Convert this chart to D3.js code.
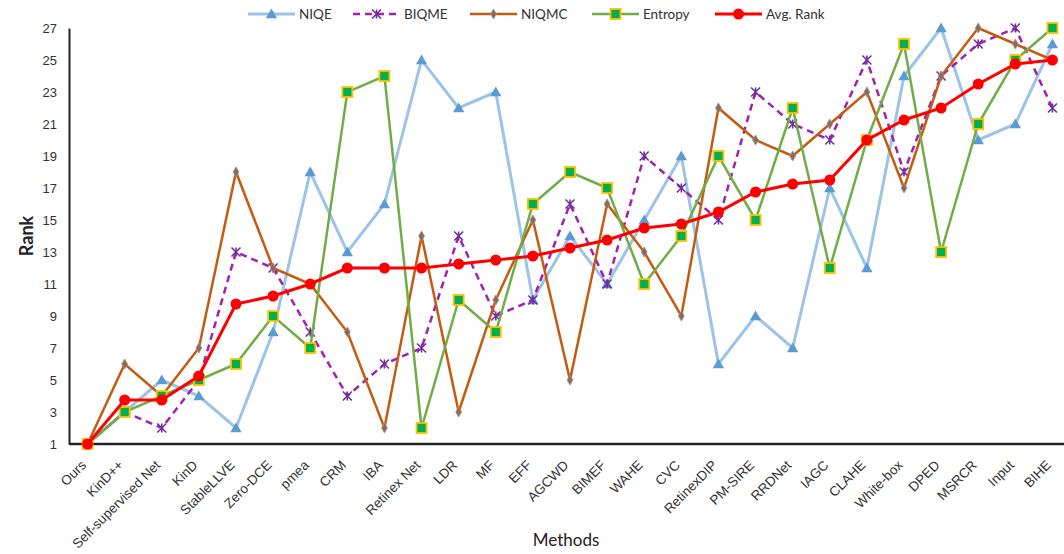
<!DOCTYPE html>
<html>
<head>
<meta charset="utf-8">
<script src="https://cdn.jsdelivr.net/npm/d3@7/dist/d3.min.js"></script>
<style>
body { margin: 0; background: #fff; }
svg { font-family: Lato, "Open Sans", sans-serif; }
</style>
</head>
<body>
<svg id="mainSvg" width="1064" height="554"></svg>
<script>
var methods = ["Ours", "KinD++", "Self-supervised Net", "KinD", "StableLLVE", "Zero-DCE", "pmea", "CRM", "IBA", "Retinex Net",
	"LDR", "MF", "EFF", "AGCWD", "BIMEF", "WAHE", "CVC", "RetinexDIP", "PM-SIRE", "RRDNet",
	"IAGC", "CLAHE", "White-box", "DPED", "MSRCR", "Input", "BIHE"];
var niqe    = [1, 3, 5, 4, 2, 8, 18, 13, 16, 25, 22, 23, 10, 14, 11, 15, 19, 6, 9, 7, 17, 12, 24, 27, 20, 21, 26];
var biqme   = [1, 3, 2, 5, 13, 12, 8, 4, 6, 7, 14, 9, 10, 16, 11, 19, 17, 15, 23, 21, 20, 25, 18, 24, 26, 27, 22];
var niqmc   = [1, 6, 4, 7, 18, 12, 11, 8, 2, 14, 3, 10, 15, 5, 16, 13, 9, 22, 20, 19, 21, 23, 17, 24, 27, 26, 25];
var entropy = [1, 3, 4, 5, 6, 9, 7, 23, 24, 2, 10, 8, 16, 18, 17, 11, 14, 19, 15, 22, 12, 20, 26, 13, 21, 25, 27];
var avgRank = [1, 3.75, 3.75, 5.25, 9.75, 10.25, 11, 12, 12, 12, 12.25, 12.5, 12.75, 13.25, 13.75, 14.5, 14.75, 15.5, 16.75, 17.25,
	17.5, 20, 21.25, 22, 23.5, 24.75, 25];
var yTicks = [1, 3, 5, 7, 9, 11, 13, 15, 17, 19, 21, 23, 25, 27];

var svg = d3.select("#mainSvg");
var x = d3.scalePoint().domain(methods).range([69, 1071]).padding(0.5);
var y = d3.scaleLinear().domain([1, 27]).range([444, 28]);

// series styles
var series = [
	{name: "NIQE", data: niqe, color: "#9dc3e6", width: 3, dash: null, marker: "tri"},
	{name: "BIQME", data: biqme, color: "#a020b0", width: 2.5, dash: "7,5", marker: "star"},
	{name: "NIQMC", data: niqmc, color: "#c55a11", width: 2.5, dash: null, marker: "dia"},
	{name: "Entropy", data: entropy, color: "#70ad47", width: 2.5, dash: null, marker: "sq"},
	{name: "Avg. Rank", data: avgRank, color: "#ff0000", width: 3, dash: null, marker: "dot"}
];

function drawMarker(g, type, cx, cy) {
	if (type == "tri") {
		g.append("path").attr("d", d3.symbol(d3.symbolTriangle, 55)()).attr("transform", "translate(" + cx + "," + (cy + 1) + ")").attr("fill", "#5b9bd5");
	} else if (type == "star") {
		var s = 4.5;
		g.append("path").attr("d", "M" + (cx - s) + "," + (cy - s) + "L" + (cx + s) + "," + (cy + s) + "M" + (cx - s) + "," + (cy + s) + "L" + (cx + s) + "," + (cy - s) + "M" + cx + "," + (cy - s) + "L" + cx + "," + (cy + s))
			.attr("stroke", "#7030a0").attr("stroke-width", 1.6).attr("fill", "none");
	} else if (type == "dia") {
		g.append("path").attr("d", d3.symbol(d3.symbolDiamond, 30)()).attr("transform", "translate(" + cx + "," + cy + ")").attr("fill", "#8c6a55").attr("stroke", "#999").attr("stroke-width", 0.8);
	} else if (type == "sq") {
		g.append("rect").attr("x", cx - 5).attr("y", cy - 5).attr("width", 10).attr("height", 10).attr("fill", "#00b050").attr("stroke", "#ffc000").attr("stroke-width", 1.8);
	} else if (type == "dot") {
		g.append("circle").attr("cx", cx).attr("cy", cy).attr("r", 5.5).attr("fill", "#ff0000");
	}
}

// y axis
var yAxis = svg.append("g").attr("transform", "translate(69,0)")
	.call(d3.axisLeft(y).tickValues(yTicks).tickSize(0).tickPadding(12));
yAxis.select(".domain").attr("stroke", "#222").attr("stroke-width", 2);
yAxis.selectAll("text").attr("font-size", 13).attr("fill", "#333");

// x axis
var xAxis = svg.append("g").attr("transform", "translate(0,444)")
	.call(d3.axisBottom(x).tickSize(0).tickPadding(0));
xAxis.select(".domain").attr("d", "M69,0H1064").attr("stroke", "#222").attr("stroke-width", 2.5);
xAxis.selectAll("text").attr("font-size", 13.5).attr("fill", "#333")
	.attr("text-anchor", "end").attr("dy", 0)
	.attr("transform", "translate(-1,22) rotate(-45)");

svg.append("text").attr("x", 33).attr("y", 236).attr("transform", "rotate(-90,33,236)")
	.attr("text-anchor", "middle").attr("font-size", 18).attr("font-weight", "bold").attr("fill", "#222").text("Rank");
svg.append("text").attr("x", 566).attr("y", 546).attr("text-anchor", "middle")
	.attr("font-size", 17).attr("fill", "#222").text("Methods");

// lines
var line = d3.line().x(function(d, i) { return x(methods[i]); }).y(function(d) { return y(d); });
for (var k = 0; k < series.length; k++) {
	var s = series[k];
	var g = svg.append("g");
	g.append("path").datum(s.data).attr("d", line).attr("fill", "none")
		.attr("stroke", s.color).attr("stroke-width", s.width).attr("stroke-dasharray", s.dash);
	for (var i = 0; i < s.data.length; i++) {
		drawMarker(g, s.marker, x(methods[i]), y(s.data[i]));
	}
}

// legend
var legendX = [248, 353, 470, 592, 715];
for (var k = 0; k < series.length; k++) {
	var s = series[k];
	var lg = svg.append("g");
	lg.append("line").attr("x1", legendX[k]).attr("x2", legendX[k] + 47).attr("y1", 14).attr("y2", 14)
		.attr("stroke", s.color).attr("stroke-width", s.width).attr("stroke-dasharray", s.dash);
	drawMarker(lg, s.marker, legendX[k] + 23.5, 14);
	lg.append("text").attr("x", legendX[k] + 51).attr("y", 19).attr("font-size", 13.5).attr("fill", "#333").text(s.name);
}
</script>
</body>
</html>
